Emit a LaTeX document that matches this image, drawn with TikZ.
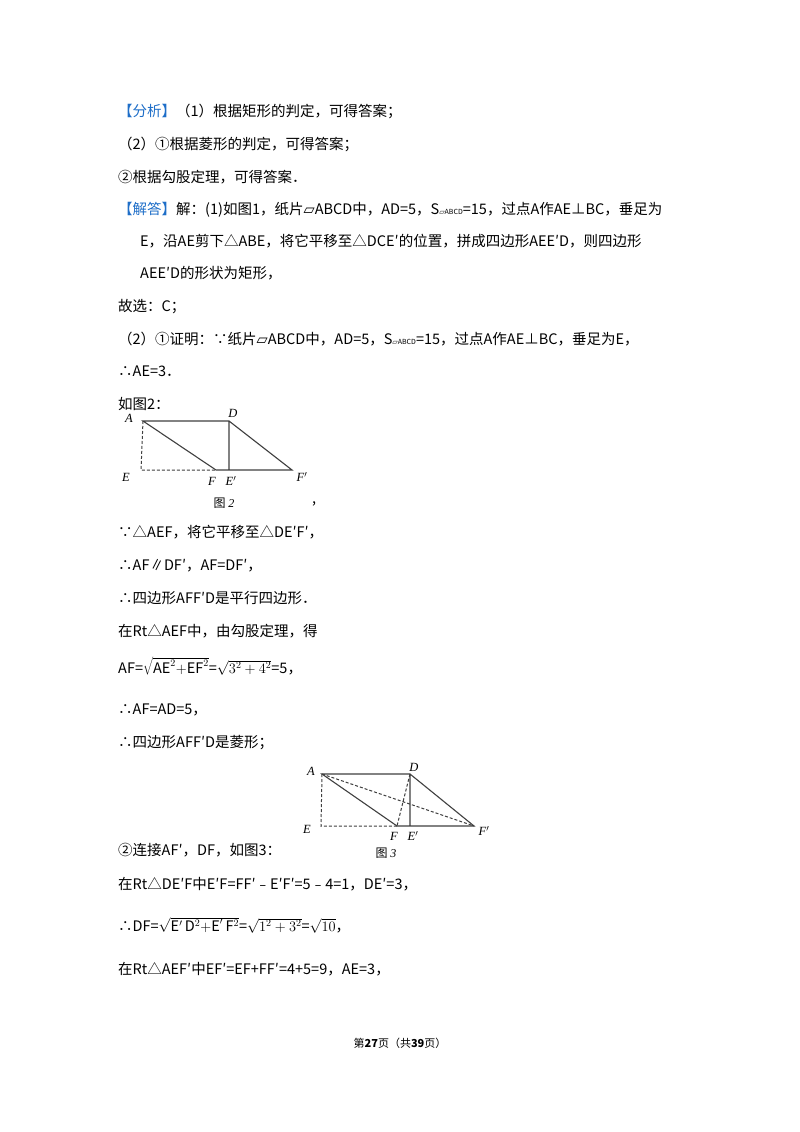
\documentclass[tikz,border=0pt]{standalone}
\usepackage{fontspec}
\setmainfont{Noto Sans CJK SC}
\newfontfamily\dv{DejaVu Sans}
\newfontfamily\ser{Liberation Serif}
\definecolor{kblue}{HTML}{1E6EC8}
\begin{document}
\begin{tikzpicture}[x=1pt,y=-1pt,
 tx/.style={anchor=base west,inner sep=0pt,font=\fontsize{14.5}{16}\selectfont},
 lb/.style={inner sep=0pt,font=\ser\itshape\fontsize{12.5}{13}\selectfont},
 figcap/.style={inner sep=0pt,font=\fontsize{12}{13}\selectfont},
 seg/.style={line width=1.1pt,draw=black!75},
 dsh/.style={line width=1pt,draw=black!75,dash pattern=on 3pt off 2pt}]
\useasboundingbox[fill=white] (0,0) rectangle (800,1132);
\node[tx] (l1) at (118,116) {\textcolor{kblue}{【分析】}（1）根据矩形的判定，可得答案；};
\node[tx] (l2) at (118,149) {（2）①根据菱形的判定，可得答案；};
\node[tx] (l3) at (118,182) {②根据勾股定理，可得答案．};
\node[tx] (l4) at (118,214) {\textcolor{kblue}{【解答】}解：(1)如图1，纸片{\dv ▱}ABCD中，AD=5，S{\fontsize{7}{8}\selectfont\dv ▱}{\fontsize{7}{8}\selectfont ABCD}=15，过点A作AE⊥BC，垂足为};
\node[tx] (l5) at (140,246) {E，沿AE剪下△ABE，将它平移至△DCE′的位置，拼成四边形AEE′D，则四边形};
\node[tx] (l6) at (140,278) {AEE′D的形状为矩形，};
\node[tx] (l7) at (118,311) {故选：C；};
\node[tx] (l8) at (118,344) {（2）①证明：∵纸片{\dv ▱}ABCD中，AD=5，S{\fontsize{7}{8}\selectfont\dv ▱}{\fontsize{7}{8}\selectfont ABCD}=15，过点A作AE⊥BC，垂足为E，};
\node[tx] (l9) at (118,376) {∴AE=3．};
\node[tx] (l10) at (118,409) {如图2：};
% figure 2
\coordinate (A) at (143,421); \coordinate (D) at (229,421);
\coordinate (E) at (141,470); \coordinate (F) at (216,470);
\coordinate (E1) at (229,470); \coordinate (F1) at (292,470);
\draw[seg] (A)--(D)--(F1)--(F)--cycle (D)--(E1);
\draw[dsh] (A)--(E)--(F);
\node[lb] (la) at (129,418) {A}; \node[lb] (ld) at (233,413) {D};
\node[lb] (le) at (126,477) {E}; \node[lb] (lf) at (212,481) {F};
\node[lb] (le1) at (231,481) {E$'$}; \node[lb] (lf1) at (302,477) {F$'$};
\node[figcap] (c2) at (224,503) {图 {\ser\itshape 2}};
\node[tx] (cm2) at (312,503) {,};
\node[tx] (l11) at (118,537) {∵△AEF，将它平移至△DE′F′，};
\node[tx] (l12) at (118,570) {∴AF∥DF′，AF=DF′，};
\node[tx] (l13) at (118,603) {∴四边形AFF′D是平行四边形．};
\node[tx] (l14) at (118,636) {在Rt△AEF中，由勾股定理，得};
\node[tx] (l15) at (118,673) {AF=$\sqrt{\mathrm{AE}^2\mathrm{+EF}^2}$=$\sqrt{3^2+4^2}$=5，};
\node[tx] (l16) at (118,714) {∴AF=AD=5，};
\node[tx] (l17) at (118,747) {∴四边形AFF′D是菱形；};
% figure 3
\coordinate (A3) at (322,774); \coordinate (D3) at (410,774);
\coordinate (E3) at (321,826); \coordinate (F3) at (397,826);
\coordinate (E31) at (410,826); \coordinate (F31) at (474,826);
\draw[seg] (A3)--(D3)--(F31)--(F3)--cycle (D3)--(E31);
\draw[dsh] (A3)--(E3)--(F3) (A3)--(F31) (D3)--(F3);
\node[lb] (la3) at (311,771) {A}; \node[lb] (ld3) at (414,767) {D};
\node[lb] (le3) at (307,829) {E}; \node[lb] (lf3) at (394,836) {F};
\node[lb] (le31) at (413,836) {E$'$}; \node[lb] (lf31) at (484,831) {F$'$};
\node[figcap] (c3) at (386,853) {图 {\ser\itshape 3}};
\node[tx] (l18) at (118,855) {②连接AF′，DF，如图3：};
\node[tx] (l19) at (118,889) {在Rt△DE′F中E′F=FF′﹣E′F′=5﹣4=1，DE′=3，};
\node[tx] (l20) at (118,931) {∴DF=$\sqrt{\mathrm{E}'\,\mathrm{D}^2\mathrm{+E}'\,\mathrm{F}^2}$=$\sqrt{1^2+3^2}$=$\sqrt{10}$，};
\node[tx] (l21) at (118,974) {在Rt△AEF′中EF′=EF+FF′=4+5=9，AE=3，};
\node[inner sep=0pt,font=\fontsize{11}{12}\selectfont] (ft) at (400,1043) {第\textbf{27}页（共\textbf{39}页）};
\end{tikzpicture}
\end{document}
